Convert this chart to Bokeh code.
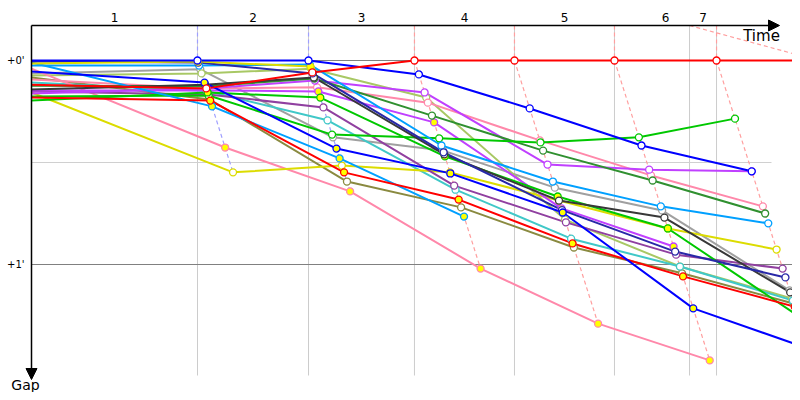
from bokeh.plotting import figure
from bokeh.models import Range1d, Arrow, NormalHead, ColumnDataSource
from bokeh.core.properties import value
from bokeh.embed import file_html
from bokeh.resources import INLINE

# ---------------- data ----------------
stage_labels = ["1", "2", "3", "4", "5", "6", "7"]
stage_anchor = [153.7, 256.5, 354.6, 447.2, 539.8, 634.3, 609.3]   # stage grid lines (time, s)
leader_time = [153.7, 256.5, 354.6, 447.2, 539.8, 634.3, 728.7]    # leader's time at each stage end
stage_guide_color = ["#9f9fff", "#9f9fff", "#ff9f9f", "#ff9f9f", "#ff9f9f", "#ff9f9f", "#ff9f9f"]
gap_ticks = [0, 60]
gap_tick_labels = ["+0'", "+1'"]
half_gap_tick = 30

# gaps (seconds): start, after stage 1..7 ; fills: w = white, y = yellow
red_lead = [7.1, 8.2, 3.5, 0, 0, 0, 0, 0]
blue_lead = [0, 0, 0, 4.1, 14.1, 25.0, 32.6]
yellow_top = [0.9, 0.3, 1.8]
light_blue_1 = [1.5, 1.5, 1.2, 25.0, 35.6, 42.9, 47.9]
light_blue_2 = [0.6, 13.5, 28.8, 45.9]
indigo = [0.3, 0.6, 3.8, 27.0, 44.0, 56.2, 63.8]
blue_2 = [3.2, 6.5, 25.9, 33.2, 44.7, 72.9, 84.7]
gray = [3.8, 2.6, 22.6, 26.5, 37.4, 44.1, 67.6]
light_olive = [4.4, 3.8, 2.4, 10.9, 46.8, 60.6, 70.0]
olive = [5.0, 11.5, 35.6, 43.2, 55.0, 62.6, 71.5]
pink_1 = [5.6, 8.2, 7.9, 12.4, 23.5, 33.8, 42.9]
pink_2 = [2.4, 25.6, 38.5, 61.2, 77.4, 88.2]
cyan = [6.5, 9.0, 17.6, 38.0, 52.4, 60.6, 70.6]
dark_green = [7.4, 7.6, 5.3, 16.2, 26.5, 35.3, 45.0]
black = [8.5, 7.1, 5.0, 27.6, 41.2, 46.2, 68.2]
magenta_1 = [9.7, 8.2, 5.9, 9.4, 30.6, 32.1, 32.6]
magenta_2 = [8.8, 8.8, 9.1, 18.2, 43.5, 54.7]
purple = [9.1, 10.0, 13.8, 36.8, 47.6, 57.1, 61.2]
yellow_2 = [9.4, 32.9, 30.9, 32.9, 41.2, 49.4, 55.6]
lime_1 = [10.6, 10.3, 21.8, 22.9, 24.1, 22.6, 17.1]
lime_2 = [11.8, 9.4, 10.9, 28.2, 40.0, 49.4, 75.0]
red_2 = [10.9, 11.8, 32.9, 40.9, 53.8, 63.5, 72.4]

series = [
    (gray, "#a0a0a0", "w"),
    (light_olive, "#a8c864", "wywwww"),
    (olive, "#8a8a40", "w"),
    (cyan, "#40c8c8", "w"),
    (pink_1, "#ff88aa", "w"),
    (pink_2, "#ff88aa", "y"),
    (yellow_2, "#dcdc00", "w"),
    (purple, "#9040a0", "w"),
    (magenta_2, "#c040ff", "y"),
    (magenta_1, "#c040ff", "w"),
    (dark_green, "#309030", "w"),
    (lime_1, "#00c800", "w"),
    (lime_2, "#00c800", "y"),
    (light_blue_2, "#00a0ff", "y"),
    (light_blue_1, "#00a0ff", "w"),
    (black, "#383838", "w"),
    (indigo, "#2828a8", "w"),
    (red_2, "#ff0000", "y"),
    (blue_2, "#0000ff", "y"),
    (yellow_top, "#dcdc00", "y"),
    (blue_lead, "#0000ff", "w"),
    (red_lead, "#ff0000", "w"),
]

# ---------------- figure ----------------
px_per_s_x = 1.08
px_per_s_y = 3.4
x0_canvas, y0_canvas = 31.0, 60.0
W, H = 792, 392
p = figure(width=W, height=H,
           x_range=Range1d(-x0_canvas / px_per_s_x, (W - x0_canvas) / px_per_s_x),
           y_range=Range1d((H - y0_canvas) / px_per_s_y, -y0_canvas / px_per_s_y),
           output_backend="svg", toolbar_location=None,
           x_axis_type=None, y_axis_type=None,
           min_border_left=0, min_border_right=0, min_border_top=0, min_border_bottom=0,
           outline_line_color=None, background_fill_color="white", border_fill_color="white")


def gx(px):
    return (px - x0_canvas) / px_per_s_x


def gy(py):
    return (py - y0_canvas) / px_per_s_y


g_top = gy(25)          # gap level of the time axis
g_bottom_grid = gy(375)
x_right = gx(W)
font = value("DejaVu Sans")

# vertical stage grid lines
p.segment(x0=stage_anchor, y0=[g_top] * len(stage_anchor),
          x1=stage_anchor, y1=[g_bottom_grid] * len(stage_anchor),
          line_color="#cccccc", line_width=1)
# horizontal gap lines
p.segment(x0=[0, 0], y0=gap_ticks, x1=[x_right, x_right], y1=gap_ticks,
          line_color="#808080", line_width=1)
p.segment(x0=[0], y0=[half_gap_tick], x1=[gx(771)], y1=[half_gap_tick],
          line_color="#d0d0d0", line_width=1)

# stage guide (dashed) lines: anchor at top -> leader point -> last car of stage
for k in range(len(leader_time)):
    gmax = 0.0
    for s, c, f in series:
        if len(s) > k + 1 and s[k + 1] is not None:
            gmax = max(gmax, s[k + 1])
    xs = [stage_anchor[k], leader_time[k], leader_time[k] + gmax]
    ys = [g_top, 0, gmax]
    p.line(xs, ys, line_color=stage_guide_color[k], line_width=1.2, line_dash="4 3")

# series lines
marker_x, marker_y, marker_line, marker_fill = [], [], [], []
for s, c, f in series:
    xs = [0.0] + [leader_time[i - 1] + s[i] for i in range(1, len(s))]
    ys = list(s)
    p.line(xs, ys, line_color=c, line_width=2)
    for i in range(1, len(s)):
        marker_x.append(xs[i])
        marker_y.append(ys[i])
        marker_line.append(c)
        fc = f[i - 1] if len(f) >= i else f[-1]
        marker_fill.append("#ffff00" if fc == "y" else "white")

msrc = ColumnDataSource(dict(x=marker_x, y=marker_y, lc=marker_line, fc=marker_fill))
p.scatter("x", "y", source=msrc, marker="circle", size=7, line_color="lc",
          fill_color="fc", line_width=1.3)

# axes (arrows)
p.add_layout(Arrow(end=NormalHead(size=11, fill_color="black", line_color="black"),
                   x_start=0, y_start=g_top, x_end=gx(779), y_end=g_top,
                   line_color="black", line_width=1.5))
p.add_layout(Arrow(end=NormalHead(size=11, fill_color="black", line_color="black"),
                   x_start=0, y_start=g_top, x_end=0, y_end=gy(379),
                   line_color="black", line_width=1.5))

# texts
bounds = [0.0] + stage_anchor
label_x = [(bounds[i] + bounds[i + 1]) / 2 for i in range(len(stage_labels))]
p.text(x=label_x, y=[gy(17)] * len(stage_labels), text=stage_labels,
       text_font=font, text_font_size="12px", text_align="center", text_baseline="middle",
       text_color="black")
p.text(x=[gx(24)] * len(gap_ticks), y=gap_ticks, text=gap_tick_labels,
       text_font=font, text_font_size="10px", text_align="right", text_baseline="middle",
       text_color="black")
p.text(x=[gx(761)], y=[gy(35)], text=["Time"],
       text_font=font, text_font_size="15px", text_align="center", text_baseline="middle",
       text_color="black")
p.text(x=[gx(25)], y=[gy(384)], text=["Gap"],
       text_font=font, text_font_size="14px", text_align="center", text_baseline="middle",
       text_color="black")

open("out.html", "w").write(file_html(p, INLINE))
